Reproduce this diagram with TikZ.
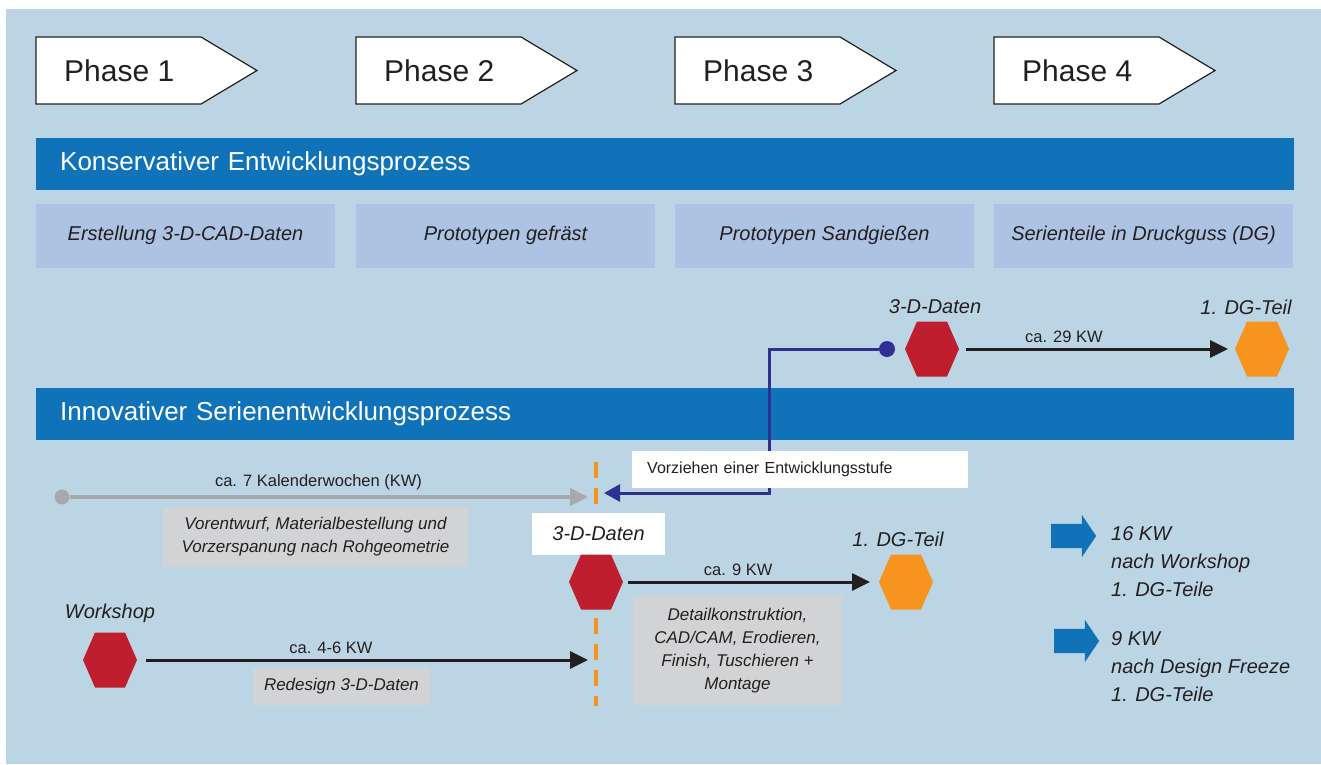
\documentclass[tikz,border=0pt]{standalone}
\usepackage{fontspec}
\setmainfont{Liberation Sans}
\usepackage{tikz}
\usetikzlibrary{calc}
\usetikzlibrary{shapes.arrows}
\usetikzlibrary{arrows.meta}
\definecolor{bgblue}{HTML}{BCD5E4}
\definecolor{barblue}{HTML}{1073BA}
\definecolor{subblue}{HTML}{ADC3E3}
\definecolor{boxgrey}{HTML}{D1D3D4}
\definecolor{linegrey}{HTML}{A7A9AC}
\definecolor{hexred}{HTML}{BE1E2D}
\definecolor{hexorange}{HTML}{F7941E}
\definecolor{pullblue}{HTML}{2E3192}
\definecolor{txt}{HTML}{231F20}
\tikzset{
  phaseline/.style={fill=white, draw=txt, line width=1.2pt, line join=miter},
  phasetxt/.style={anchor=west, inner sep=0pt, text=txt, font=\fontsize{30pt}{36pt}\selectfont},
  bar/.style={anchor=west, fill=barblue, text=white, minimum height=52pt, inner xsep=24pt, text width=1210pt, align=left, font=\fontsize{26pt}{31pt}\selectfont},
  subbox/.style={fill=subblue, text=txt, minimum width=299pt, minimum height=64pt, inner sep=0pt, font=\fontsize{20pt}{24pt}\selectfont\itshape},
  greybox/.style={fill=boxgrey, text=txt, inner sep=0pt, align=center, font=\fontsize{17pt}{23pt}\selectfont\itshape},
  whitebox/.style={fill=white, text=txt, inner sep=0pt},
  itl/.style={text=txt, inner sep=0pt, font=\fontsize{20pt}{24pt}\selectfont\itshape},
  kwlabel/.style={text=txt, inner sep=0pt, above=5pt, font=\fontsize{16.5pt}{20pt}\selectfont},
  hexa/.style={minimum width=54pt, minimum height=55pt, inner sep=0pt, outer sep=0pt,
    path picture={\fill[#1] (path picture bounding box.west)
      -- ($(path picture bounding box.north west)+(12,0)$)
      -- ($(path picture bounding box.north east)+(-12,0)$)
      -- (path picture bounding box.east)
      -- ($(path picture bounding box.south east)+(-12,0)$)
      -- ($(path picture bounding box.south west)+(12,0)$) -- cycle;}},
  blackarrow/.style={draw=txt, line width=3pt, -{Triangle[length=18pt,width=17pt]}},
  greyarrow/.style={draw=linegrey, line width=4pt, -{Triangle[length=18pt,width=17pt]}},
  pullarrow/.style={draw=pullblue, line width=3pt, line join=miter, -{Triangle[length=16pt,width=17pt]}},
  dot/.style={circle, fill=#1, inner sep=0pt, minimum size=16pt},
  bigarrow/.style={single arrow, fill=barblue, inner xsep=0pt, inner ysep=12pt, minimum height=45pt, single arrow head extend=9pt, single arrow tip angle=112},
  restxt/.style={anchor=west, text=txt, inner sep=0pt, align=left, font=\fontsize{20pt}{28pt}\selectfont\itshape},
}
\newcommand{\phasearrow}[3]{
  \filldraw[phaseline] (#2,37) -- ++(165,0) -- ++(56,33.5) -- ++(-56,33.5) -- ++(-165,0) -- cycle;
  \node[phasetxt] (#1) at ({#2+28},71) {#3};}

\begin{document}
\begin{tikzpicture}[x=1pt,y=-1pt]
        \useasboundingbox (0,0) rectangle (1321,764);
        \fill[white] (0,0) rectangle (1321,764);
        \fill[bgblue] (6,9) rectangle (1321,764);
        % phases
        \phasearrow{ph1}{36}{Phase 1}
        \phasearrow{ph2}{356}{Phase 2}
        \phasearrow{ph3}{675}{Phase 3}
        \phasearrow{ph4}{994}{Phase 4}
        % conservative process
        \node[bar] (kons) at (36,164) {Konservativer Entwicklungsprozess};
        \node[subbox] (k1) at (185.5,235.5) {Erstellung 3-D-CAD-Daten};
        \node[subbox] (k2) at (505.5,235.5) {Prototypen gefräst};
        \node[subbox] (k3) at (824.5,235.5) {Prototypen Sandgießen};
        \node[subbox] (k4) at (1143.5,235.5) {Serienteile in Druckguss (DG)};
        \node[hexa=hexred] (kdat) at (932,349) {};
        \node[hexa=hexorange] (kdg) at (1262,349) {};
        \node[itl] (kdatl) at (935,307) {3-D-Daten};
        \node[itl] (kdgl) at (1246,307) {1. DG-Teil};
        \draw[blackarrow, shorten <=7pt, shorten >=7pt] (kdat) -- node[kwlabel, pos=0.38] {ca. 29 KW} (kdg);
        % innovative process
        \node[bar] (inno) at (36,414) {Innovativer Serienentwicklungsprozess};
        % pull forward
        \node[dot=pullblue] (pull) at (887,349) {};
        \coordinate (bend) at (769,493);
        \coordinate (pullend) at (604,493);
        \draw[pullarrow] (pull) -| (bend) -- (pullend);
        \node[whitebox, anchor=west, minimum width=336pt, minimum height=37pt, text width=306pt, inner xsep=15pt, align=left, font=\fontsize{16pt}{19pt}\selectfont] (vorz) at (632,469.5) {Vorziehen einer Entwicklungsstufe};
        % design freeze line
        \coordinate (dtop) at (596,462);
        \coordinate (dbot) at (596,706);
        \draw[hexorange, line width=3.5pt, dash pattern=on 16pt off 10pt] (dtop) -- (dbot);
        % row 1
        \node[dot=linegrey, minimum size=15pt] (gstart) at (62,497) {};
        \coordinate (gend) at (588,497);
        \draw[greyarrow] (gstart) -- node[kwlabel, pos=0.48] {ca. 7 Kalenderwochen (KW)} (gend);
        \node[greybox, minimum width=305pt, minimum height=60pt] (vor) at (315.5,537) {Vorentwurf, Materialbestellung und\\Vorzerspanung nach Rohgeometrie};
        % row 2
        \node[whitebox, minimum width=133pt, minimum height=42pt, font=\fontsize{20pt}{24pt}\selectfont\itshape] (ddatl) at (598.5,534) {3-D-Daten};
        \node[hexa=hexred] (ddat) at (596,582) {};
        \node[hexa=hexorange] (ddg) at (906,582) {};
        \node[itl] (ddgl) at (898,539) {1. DG-Teil};
        \draw[blackarrow, shorten <=5pt, shorten >=9pt] (ddat) -- node[kwlabel, pos=0.45] {ca. 9 KW} (ddg);
        \node[greybox, minimum width=209pt, minimum height=109pt] (det) at (737.5,650.5) {Detailkonstruktion,\\CAD/CAM, Erodieren,\\Finish, Tuschieren +\\Montage};
        % row 3
        \node[hexa=hexred] (ws) at (110,660) {};
        \node[itl] (wsl) at (110,613) {Workshop};
        \coordinate (wsend) at (588,660);
        \draw[blackarrow, shorten <=9pt] (ws) -- node[kwlabel, pos=0.43] {ca. 4-6 KW} (wsend);
        \node[greybox, minimum width=177pt, minimum height=37pt] (redes) at (341.5,686.5) {Redesign 3-D-Daten};
        % results
        \node[bigarrow] (res1) at (1069.5,536) {};
        \node[bigarrow] (res2) at (1072.5,641) {};
        \node[restxt] (res1t) at (1111,562) {16 KW\\nach Workshop\\1. DG-Teile};
        \node[restxt] (res2t) at (1111,667) {9 KW\\nach Design Freeze\\1. DG-Teile};
\end{tikzpicture}
\end{document}
